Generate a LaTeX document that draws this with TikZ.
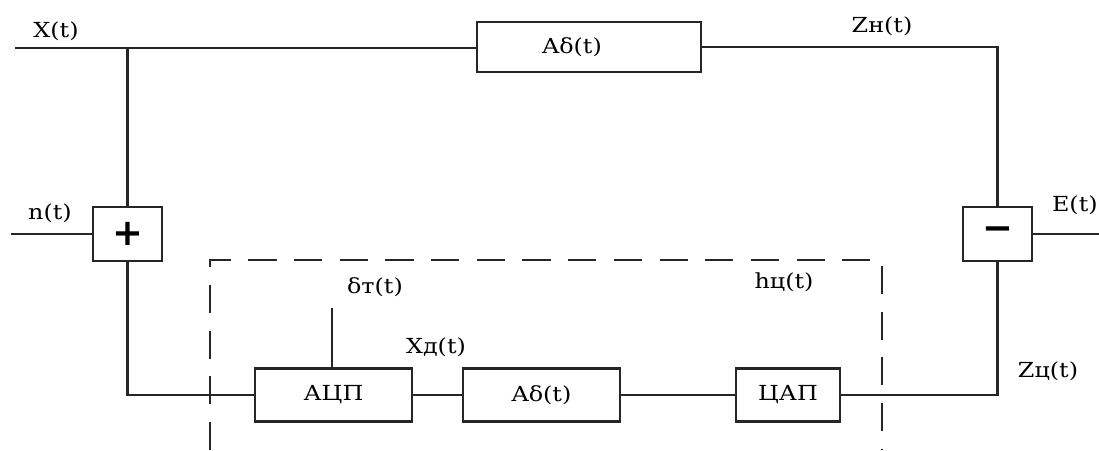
\documentclass[tikz,border=0pt]{standalone}
\usepackage{fontspec}
\setmainfont{DejaVu Serif}[FakeStretch=1.15]
\newfontfamily\signfont{DejaVu Sans}
\begin{document}
\begin{tikzpicture}[x=0.02cm, y=-0.02cm,
  wire/.style={line width=1.3pt, draw=black!85},
  blk/.style={draw=black!85, line width=1.3pt, rectangle, inner sep=0pt, font=\fontsize{11.8}{13}\selectfont},
  sign/.style={blk, minimum width=1.38cm, minimum height=1.07cm, font=\signfont\bfseries\fontsize{21}{21}\selectfont},
  lbl/.style={inner sep=0pt, font=\fontsize{11.8}{13}\selectfont},
  frame/.style={line width=1.3pt, draw=black!85, dash pattern=on 16pt off 10pt}]
\useasboundingbox (0,0) rectangle (1099,450);
\fill[white] (0,0) rectangle (1099,450);

% blocks
\node[blk, minimum width=4.48cm, minimum height=1.0cm] (topA) at (589,47) {};
\node[lbl] (topAtext) at (572,47) {Aδ(t)};
\node[sign] (sum) at (127.5,234) {+};
\node[sign] (diff) at (997.5,234) {−};
\node[blk, minimum width=3.14cm, minimum height=1.06cm] (adc) at (333.5,395) {АЦП};
\node[blk, minimum width=3.14cm, minimum height=1.06cm] (ad2) at (541.5,395) {Aδ(t)};
\node[blk, minimum width=2.08cm, minimum height=1.06cm] (dac) at (788,395) {ЦАП};

% free ends
\coordinate (xin) at (15,48);
\coordinate (nin) at (11,234);
\coordinate (eout) at (1099,234);
\coordinate (dtop) at (332,308);

% connections
\draw[wire] (xin) -- (xin -| topA.west);
\draw[wire] (sum.north) -- (sum.north |- xin);
\draw[wire] (topA.east) -| (diff.north);
\draw[wire] (nin) -- (sum.west);
\draw[wire] (sum.south) |- (adc.west);
\draw[wire] (dtop) -- (dtop |- adc.north);
\draw[wire] (adc.east) -- (ad2.west);
\draw[wire] (ad2.east) -- (dac.west);
\draw[wire] (dac.east) -| (diff.south);
\draw[wire] (diff.east) -- (diff.east -| eout);

% digital filter boundary
\coordinate (fbl) at (210,450);
\coordinate (ftl) at (210,260);
\coordinate (ftr) at (882,260);
\coordinate (fbr) at (882,450);
\draw[frame] (fbl) -- (ftl) -- (ftr) -- (fbr);

% signal labels
\node[lbl] (lx) at (56,31) {X(t)};
\node[lbl] (ln) at (50,213) {n(t)};
\node[lbl] (lzn) at (882,26) {Zн(t)};
\node[lbl, anchor=east] (le) at (1098,205) {E(t)};
\node[lbl] (ldt) at (375,287) {δт(t)};
\node[lbl] (lxd) at (436,347) {Xд(t)};
\node[lbl] (lh) at (784,282) {hц(t)};
\node[lbl] (lzc) at (1048,371) {Zц(t)};
\end{tikzpicture}
\end{document}
